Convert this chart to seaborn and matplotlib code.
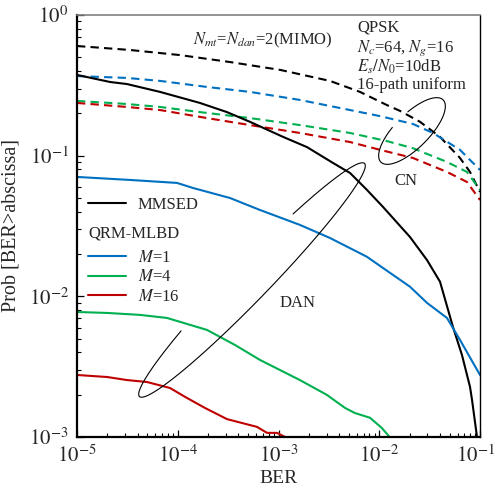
import numpy as np
import pandas as pd
import matplotlib
matplotlib.use("Agg")
import matplotlib.pyplot as plt
import matplotlib.transforms as mtransforms
from matplotlib.lines import Line2D
import seaborn as sns

# ---------------- data ----------------
mmsed_cn_x = [1e-5, 3.36e-5, 1.05e-4, 3.30e-4, 1.04e-3, 3.24e-3, 6.44e-3, 1.19e-2, 1.61e-2, 2.54e-2, 4.01e-2, 6.33e-2, 7.96e-2, 1e-1]
mmsed_cn_y = [0.602, 0.564, 0.519, 0.463, 0.407, 0.340, 0.284, 0.229, 0.208, 0.174, 0.136, 0.0963, 0.0766, 0.0552]

m1_cn_x = [1e-5, 3.13e-5, 6.67e-5, 1.95e-4, 5.21e-4, 1.63e-3, 5.13e-3, 1.02e-2, 2.16e-2, 3.41e-2, 6.33e-2, 1e-1]
m1_cn_y = [0.368, 0.357, 0.340, 0.308, 0.284, 0.249, 0.211, 0.191, 0.168, 0.145, 0.110, 0.0791]

m4_cn_x = [1e-5, 3.13e-5, 6.67e-5, 1.66e-4, 5.21e-4, 1.63e-3, 5.13e-3, 1.19e-2, 2.16e-2, 4.70e-2, 7.43e-2, 1e-1]
m4_cn_y = [0.245, 0.233, 0.222, 0.204, 0.185, 0.165, 0.145, 0.127, 0.113, 0.0902, 0.0766, 0.0571]

m16_cn_x = [1e-5, 3.13e-5, 6.67e-5, 1.95e-4, 5.21e-4, 1.63e-3, 5.13e-3, 1.02e-2, 2.16e-2, 4.70e-2, 7.43e-2, 1e-1]
m16_cn_y = [0.237, 0.222, 0.211, 0.185, 0.165, 0.145, 0.125, 0.110, 0.0963, 0.0766, 0.0650, 0.0484]

mmsed_dan_x = [1e-5, 2.13e-5, 3.13e-5, 6.67e-5, 1.66e-4, 3.08e-4, 5.21e-4, 1.11e-3, 1.92e-3, 3.48e-3, 5.13e-3, 7.55e-3, 1.09e-2, 2.02e-2, 2.98e-2, 4.01e-2, 5.39e-2, 6.62e-2, 7.96e-2, 8.33e-2, 9.34e-2]
mmsed_dan_y = [0.375, 0.334, 0.323, 0.284, 0.237, 0.204, 0.174, 0.136, 0.115, 0.0887, 0.0753, 0.0571, 0.0432, 0.0264, 0.0181, 0.0127, 0.00606, 0.00383, 0.00227, 0.00184, 0.00100]

m1_dan_x = [1e-5, 3.36e-5, 9.84e-5, 1.42e-4, 3.30e-4, 6.55e-4, 1.63e-3, 3.24e-3, 7.55e-3, 1.09e-2, 2.02e-2, 2.98e-2, 4.70e-2, 6.33e-2, 1e-1]
m1_dan_y = [0.0706, 0.0672, 0.0640, 0.0589, 0.0500, 0.0411, 0.0322, 0.0260, 0.0191, 0.0159, 0.0117, 0.00898, 0.00702, 0.00490, 0.00276]

m4_dan_x = [1e-5, 1.99e-5, 4.22e-5, 7.82e-5, 1.95e-4, 3.70e-4, 6.55e-4, 1.63e-3, 3.03e-3, 4.57e-3, 5.74e-3, 8.09e-3, 1.06e-2, 1.34e-2]
m4_dan_y = [0.00774, 0.00762, 0.00738, 0.00702, 0.00577, 0.00451, 0.00353, 0.00254, 0.00199, 0.00161, 0.00148, 0.00137, 0.00116, 0.000954]

m16_dan_x = [1e-5, 1.99e-5, 3.13e-5, 4.95e-5, 8.38e-5, 1.18e-4, 1.86e-4, 3.08e-4, 6.12e-4, 7.69e-4, 9.66e-4, 1.21e-3]
m16_dan_y = [0.00276, 0.00267, 0.00254, 0.00246, 0.00223, 0.00193, 0.00161, 0.00134, 0.00118, 0.00107, 0.00107, 0.000985]

x_ticks = [1e-5, 1e-4, 1e-3, 1e-2, 1e-1]
x_tick_labels = [r"$10^{-5}$", r"$10^{-4}$", r"$10^{-3}$", r"$10^{-2}$", r"$10^{-1}$"]
y_ticks = [1e-3, 1e-2, 1e-1, 1e0]
y_tick_labels = [r"$10^{-3}$", r"$10^{-2}$", r"$10^{-1}$", r"$10^{0}$"]

legend_labels = ["MMSED", r"$M$=1", r"$M$=4", r"$M$=16"]
legend_header = "QRM-MLBD"

# ---------------- style ----------------
sns.set_theme(style="ticks")
plt.rcParams["font.family"] = ["Liberation Serif", "DejaVu Serif"]
plt.rcParams["mathtext.fontset"] = "stix"
plt.rcParams["axes.linewidth"] = 1.5

BLUE, GREEN, RED, BLACK = "#0070C0", "#00B050", "#C00000", "#000000"
DASH = (0, (4, 2.5))

fig = plt.figure(figsize=(4.97, 4.88), dpi=100)
W, H = 497, 488
L, R, T, B = 77, 480, 15, 437
ax = fig.add_axes([L / W, (H - B) / H, (R - L) / W, (B - T) / H])

series = [
    (mmsed_cn_x, mmsed_cn_y, BLACK, DASH),
    (m1_cn_x, m1_cn_y, BLUE, DASH),
    (m4_cn_x, m4_cn_y, GREEN, DASH),
    (m16_cn_x, m16_cn_y, RED, DASH),
    (mmsed_dan_x, mmsed_dan_y, BLACK, "-"),
    (m1_dan_x, m1_dan_y, BLUE, "-"),
    (m4_dan_x, m4_dan_y, GREEN, "-"),
    (m16_dan_x, m16_dan_y, RED, "-"),
]
for xs, ys, c, ls in series:
    df = pd.DataFrame({"x": xs, "y": ys})
    sns.lineplot(data=df, x="x", y="y", ax=ax, color=c, lw=1.5,
                 linestyle=ls, estimator=None, sort=False, legend=False)

ax.set_xscale("log")
ax.set_yscale("log")
ax.set_xlim(1e-5, 1e-1)
ax.set_ylim(1e-3, 1e0)
ax.set_xticks(x_ticks)
ax.set_xticklabels(x_tick_labels, fontsize=15)
ax.set_yticks(y_ticks)
ax.set_yticklabels(y_tick_labels, fontsize=15)
ax.tick_params(which="both", direction="in", top=False, right=False, color="black")
ax.tick_params(which="major", length=5, width=0.9, pad=6)
ax.tick_params(which="minor", length=3, width=0.8)
# keep the rightmost tick label inside the canvas
last = ax.get_xticklabels()[-1]
last.set_transform(last.get_transform() +
                   mtransforms.ScaledTranslation(-4 / 100, 0, fig.dpi_scale_trans))
ax.set_xlabel("BER", fontsize=14, labelpad=2)
ax.set_ylabel("Prob [BER>abscissa]", fontsize=14.5, labelpad=6)
for s in ["left", "bottom"]:
    ax.spines[s].set_color("black")
    ax.spines[s].set_linewidth(1.6)
ax.spines["top"].set_color("#808080")
ax.spines["top"].set_linewidth(1.2)
ax.spines["right"].set_color("black")
ax.spines["right"].set_linewidth(1.0)
ax.set_facecolor("white")

# ---------------- legends ----------------
def pa(px, py):
    return (np.asarray(px) - L) / (R - L), (B - np.asarray(py)) / (B - T)

h_mm = [Line2D([], [], color=BLACK, lw=1.5)]
leg1 = ax.legend(h_mm, legend_labels[:1], loc="upper left", bbox_to_anchor=pa(88, 197),
                 frameon=False, fontsize=12, borderpad=0, borderaxespad=0,
                 handlelength=2.3, handletextpad=0.7)
ax.add_artist(leg1)
h_q = [Line2D([], [], color=c, lw=1.5) for c in (BLUE, GREEN, RED)]
leg2 = ax.legend(h_q, legend_labels[1:], loc="upper left", bbox_to_anchor=pa(88, 250),
                 frameon=False, fontsize=12, borderpad=0, borderaxespad=0,
                 labelspacing=0.2, handlelength=2.3, handletextpad=0.7)

# ---------------- annotations ----------------
def txt(px, py, s, ha="center", size=12):
    x, y = pa(px, py)
    ax.text(x, y, s, transform=ax.transAxes, ha=ha, va="center", fontsize=size)

txt(88, 233, legend_header, ha="left")
txt(263, 40, r"$N_{mt}$=$N_{dan}$=2(MIMO)")
txt(357, 27, "QPSK", ha="left")
txt(357, 48, r"$N_c$=64, $N_g$=16", ha="left")
txt(357, 67, r"$E_s/N_0$=10dB", ha="left")
txt(357, 85, "16-path uniform", ha="left")
txt(406, 181, "CN")
txt(298, 303, "DAN")

def loop(cx, cy, a, b, ang, t0, t1):
    t = np.radians(np.linspace(t0, t1, 300))
    u, v = a * np.cos(t), b * np.sin(t)
    r = np.radians(ang)
    dx = u * np.cos(r) - v * np.sin(r)
    dy = u * np.sin(r) + v * np.cos(r)
    x, y = pa(cx + dx, cy - dy)
    ax.plot(x, y, transform=ax.transAxes, color="black", lw=0.8)

loop(412, 131, 44, 17, 45, 105, 436)
loop(252, 280, 162, 18.5, 46, 122, 422)

fig.savefig("out.png", dpi=100)
